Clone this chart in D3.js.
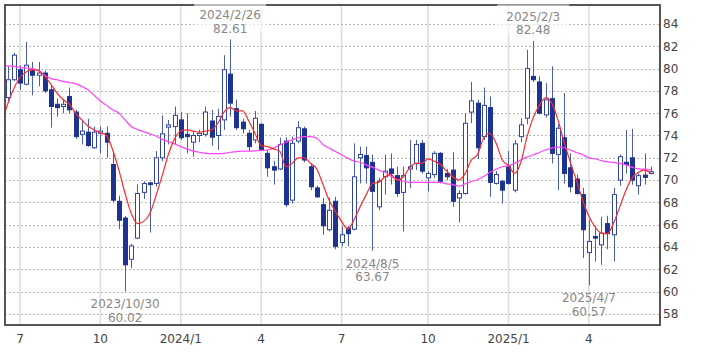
<!DOCTYPE html>
<html>
<head>
<meta charset="utf-8">
<script src="https://cdn.jsdelivr.net/npm/d3@7"></script>
<style>
  body { margin:0; background:#fff; }
  text { font-family:"DejaVu Sans", Verdana, sans-serif; }
</style>
</head>
<body>
<svg id="viz-svg" width="709" height="354"></svg>
<script>
// weekly candles, first week starts 2023/6/19
var firstWeek = "2023-06-19"
  , open  = [77.4,79.0,79.9,78.6,79.8,79.4,79.6,78.1,76.8,76.6,77.5,76.1,74.1,74.3,72.9,74.2,74.2,71.4,68.1,66.6,
             62.9,64.8,68.9,69.75,69.7,72.0,74.75,74.8,75.4,74.1,73.4,74.0,74.1,75.3,74.0,75.4,79.5,76.4,75.2,74.2,
             73.6,75.0,72.4,71.2,71.0,73.5,68.2,73.5,74.6,71.2,69.3,67.8,65.55,68.1,64.4,65.7,65.6,72.0,72.2,71.6,
             67.6,70.3,71.0,70.4,68.9,71.0,71.5,73.3,70.2,70.5,72.4,70.6,70.9,68.4,68.8,76.1,76.9,73.9,76.5,69.7,
             69.9,71.2,69.1,73.9,75.55,79.3,78.8,75.85,77.3,72.3,73.8,71.1,70.1,68.7,63.5,64.95,64.2,66.1,65.1,70.0,
             71.6,72.0,69.5,70.45,70.6]
  , high  = [80.2,81.4,80.3,82.4,80.6,80.6,79.8,78.5,77.3,77.3,78.3,76.3,75.4,75.5,74.8,74.8,74.8,72.6,68.6,66.8,
             64.3,69.6,69.9,69.8,72.6,75.8,75.4,76.6,76.1,76.0,74.4,74.5,76.6,76.3,76.4,81.2,82.61,77.2,75.5,74.5,
             76.2,75.1,72.7,71.7,73.8,73.85,73.9,75.3,74.8,71.5,69.5,68.4,68.4,68.5,65.85,65.9,73.3,73.0,73.0,72.3,
             70.2,72.3,72.4,71.2,71.2,73.6,73.6,73.6,70.8,72.6,72.5,71.0,72.5,69.1,76.0,78.8,77.2,78.3,77.5,70.8,
             70.0,72.6,73.6,75.55,81.7,82.48,79.3,78.7,80.2,75.0,77.8,72.4,70.5,69.3,66.45,65.9,66.7,66.8,69.3,72.3,
             74.5,74.6,70.6,72.4,71.2]
  , low   = [77.1,78.9,78.1,78.5,77.6,78.4,77.8,74.7,75.7,76.0,76.0,73.7,73.2,73.0,72.8,72.4,72.0,68.0,65.6,60.02,
             62.1,64.7,68.3,65.3,69.4,71.7,73.2,73.2,73.6,72.4,72.1,73.4,73.9,73.1,72.7,74.5,75.7,74.5,74.2,72.6,
             73.3,72.6,70.3,69.6,70.9,67.6,67.9,73.3,71.6,69.1,68.4,65.1,65.4,63.8,64.06,64.06,65.5,69.7,69.7,63.67,
             67.3,68.7,69.6,68.5,65.4,69.3,70.9,70.6,69.0,70.2,69.7,70.0,67.6,66.2,68.7,75.1,71.9,73.6,68.5,69.6,
             67.9,69.6,68.9,73.4,75.0,78.8,75.9,75.6,71.5,69.1,69.7,68.9,68.7,63.0,60.57,62.7,62.4,63.8,62.7,69.5,
             70.6,69.6,68.7,69.6,70.5]
  , close = [79.0,81.2,78.7,80.3,79.4,79.6,78.0,76.6,76.5,76.8,76.3,73.9,74.4,73.1,74.3,74.4,73.4,68.2,66.4,62.4,
             64.1,68.8,69.7,69.6,72.0,74.15,74.95,75.8,73.8,73.9,74.0,74.2,76.1,73.85,75.7,79.9,76.9,74.7,74.6,73.0,
             75.55,72.7,71.1,70.9,73.2,67.8,73.3,74.7,71.8,69.4,68.5,65.9,67.3,64.06,65.1,65.2,70.3,72.3,71.1,69.0,
             69.9,70.8,70.6,68.8,70.4,71.2,73.2,70.8,70.6,72.4,69.9,70.3,68.1,68.8,75.1,77.1,72.9,76.7,69.8,70.5,
             69.1,69.7,73.25,74.95,80.0,79.0,76.0,77.2,72.4,74.65,70.6,69.4,68.8,65.55,64.5,64.8,65.25,65.2,68.7,72.1,
             71.4,70.0,70.4,70.25,70.75]
  // moving averages, first value is the week before firstWeek
  , maShort = [75.0,76.8,78.2,79.2,79.7,79.9,79.8,79.3,78.6,77.8,77.2,76.8,76.0,75.4,74.85,74.5,74.25,74.0,72.7,70.9,68.8,
               67.0,66.1,66.3,67.0,68.6,70.4,72.3,73.7,74.4,74.5,74.4,74.3,74.4,74.5,75.1,76.1,76.5,76.2,76.2,75.3,
               74.2,73.1,73.0,72.8,72.6,71.2,71.5,72.0,72.0,71.5,71.0,69.6,68.2,67.2,66.3,65.6,66.4,67.6,68.7,69.7,
               69.8,70.3,70.5,70.0,70.3,71.1,71.5,71.5,71.9,71.7,71.4,70.8,70.3,70.0,70.6,71.8,72.3,73.8,74.2,73.3,
               71.8,71.3,70.6,71.6,73.9,75.6,76.7,77.4,76.9,75.4,73.4,71.6,69.95,68.2,66.75,65.8,65.25,65.2,66.15,67.6,
               69.1,70.2,70.7,70.9,70.6]
  , maLong  = [80.25,80.24,80.2,80.1,80.05,80.0,79.85,79.4,79.1,79.0,78.85,78.75,78.65,78.4,78.1,77.6,77.1,76.7,76.3,76.0,75.4,
               74.8,74.55,74.35,74.15,73.95,73.65,73.45,73.25,73.0,72.8,72.6,72.5,72.4,72.38,72.37,72.4,72.5,72.55,72.6,72.6,
               72.63,72.66,72.7,72.87,73.15,73.4,73.6,73.8,73.9,73.9,73.75,73.2,72.87,72.57,72.27,71.97,71.7,71.6,71.37,71.16,
               70.9,70.7,70.33,70.05,69.9,69.8,69.8,69.8,69.8,69.8,69.8,69.67,69.6,69.45,69.67,69.88,70.03,70.33,70.7,70.98,
               71.2,71.28,71.5,71.8,72.06,72.27,72.48,72.7,72.87,72.96,72.9,72.7,72.48,72.27,72.0,71.9,71.75,71.64,71.58,71.5,
               71.37,71.16,71.0,70.98,70.9]
  , yTicks = [58,60,62,64,66,68,70,72,74,76,78,80,82,84]
  , markDates  = ["2023/10/30","2024/2/26","2024/8/5","2025/2/3","2025/4/7"]
  , markValues = [60.02,82.61,63.67,82.48,60.57]
  , markSide   = ["low","high","low","high","low"]
  ;

var svg = d3.select("#viz-svg")
  , margin = {left:5, top:5, right:660, bottom:325}
  , bullColor = "#2f45a0"
  , bearColor = "#1c338f"
  , wickColor = "#4b5daf"
  , fmt = d3.timeFormat("%Y/%-m/%-d")
  , start = d3.timeParse("%Y-%m-%d")(firstWeek)
  , weeks = open.map(function(d,i){ return d3.timeWeek.offset(start, i); })
  ;

var x = d3.scaleLinear().domain([-0.42, 105.5]).range([margin.left, margin.right])
  , y = d3.scaleLinear().domain([57.01, 85.70]).range([margin.bottom, margin.top]);

svg.append("clipPath").attr("id","plot-clip")
  .append("rect")
  .attr("x",margin.left).attr("y",margin.top)
  .attr("width",margin.right-margin.left).attr("height",margin.bottom-margin.top);

// month ticks: first week of each quarter month
var xTicks = [];
weeks.forEach(function(d,i){
  var m = d.getMonth();
  if (i>0 && m!==weeks[i-1].getMonth() && m%3===0){
    xTicks.push({i:i, label: m===0 ? d.getFullYear()+"/1" : String(m+1)});
  }
});

var grid = svg.append("g").attr("id","grid");
grid.selectAll(".vgrid")
  .data(xTicks)
  .enter().append("line")
  .attr("x1",function(d){ return x(d.i); })
  .attr("x2",function(d){ return x(d.i); })
  .attr("y1",margin.top).attr("y2",margin.bottom)
  .attr("stroke","#dcdcdc").attr("stroke-width",1.5);

grid.selectAll(".hgrid")
  .data(yTicks)
  .enter().append("line")
  .attr("x1",margin.left).attr("x2",margin.right)
  .attr("y1",function(d){ return Math.round(y(d))+0.5; })
  .attr("y2",function(d){ return Math.round(y(d))+0.5; })
  .attr("stroke","#b8b8b8").attr("stroke-dasharray","2,2");

// candles
var candles = svg.append("g").attr("clip-path","url(#plot-clip)")
  .selectAll(".candle")
  .data(open.map(function(o,i){ return {i:i, o:o, h:high[i], l:low[i], c:close[i]}; }))
  .enter().append("g").attr("class","candle");

candles.append("line")
  .attr("x1",function(d){ return Math.round(x(d.i))+0.5; })
  .attr("x2",function(d){ return Math.round(x(d.i))+0.5; })
  .attr("y1",function(d){ return y(d.h); })
  .attr("y2",function(d){ return y(d.l); })
  .attr("stroke",wickColor).attr("stroke-width",1);

candles.append("rect")
  .attr("x",function(d){ return Math.round(x(d.i))-1.5; })
  .attr("width",4)
  .attr("y",function(d){ return y(Math.max(d.o,d.c)); })
  .attr("height",function(d){ return Math.max(1, Math.abs(y(d.o)-y(d.c))); })
  .attr("fill",function(d){ return d.c>=d.o ? "#fff" : bearColor; })
  .attr("stroke",function(d){ return d.c>=d.o ? bullColor : bearColor; })
  .attr("stroke-width",1);

// moving averages
var line = d3.line()
  .x(function(d,i){ return x(i-1); })
  .y(function(d){ return y(d); })
  .curve(d3.curveMonotoneX);

svg.append("g").attr("clip-path","url(#plot-clip)")
  .selectAll(".ma")
  .data([{v:maLong, c:"#ff44ff"}, {v:maShort, c:"#ff2a2a"}])
  .enter().append("path")
  .attr("d",function(d){ return line(d.v); })
  .attr("fill","none")
  .attr("stroke",function(d){ return d.c; })
  .attr("stroke-width",1.2);

// frame
svg.append("rect")
  .attr("x",margin.left).attr("y",margin.top)
  .attr("width",margin.right-margin.left).attr("height",margin.bottom-margin.top)
  .attr("fill","none").attr("stroke","#555").attr("stroke-width",2);

// axes labels
svg.selectAll(".ylab")
  .data(yTicks)
  .enter().append("text")
  .attr("x",margin.right+3)
  .attr("y",function(d){ return y(d); })
  .attr("dy","0.36em")
  .attr("font-size",12).attr("fill","#444")
  .text(function(d){ return d; });

svg.selectAll(".xlab")
  .data(xTicks)
  .enter().append("text")
  .attr("x",function(d){ return x(d.i); })
  .attr("y",343)
  .attr("text-anchor","middle")
  .attr("font-size",12).attr("fill","#444")
  .text(function(d){ return d.label; });

// high / low marks
markDates.forEach(function(ds,k){
  var i = weeks.findIndex(function(w){ return fmt(w)===ds; })
    , cx = x(i)
    , vy = y(markValues[k])
    , y1 = markSide[k]==="high" ? vy-24.5 : vy+12.5
    , g = svg.append("g").attr("class","mark");
  if (markSide[k]==="high"){
    g.append("rect")
      .attr("x",cx-36).attr("y",y1-12)
      .attr("width",72).attr("height",30)
      .attr("fill","#fff").attr("fill-opacity",0.6);
  }
  g.append("text")
    .attr("x",cx).attr("y",y1).attr("dy","0.36em")
    .attr("text-anchor","middle").attr("font-size",12).attr("fill","#888")
    .text(ds);
  g.append("text")
    .attr("x",cx).attr("y",y1+13.5).attr("dy","0.36em")
    .attr("text-anchor","middle").attr("font-size",12).attr("fill","#888")
    .text(markValues[k].toFixed(2));
});
</script>
</body>
</html>
